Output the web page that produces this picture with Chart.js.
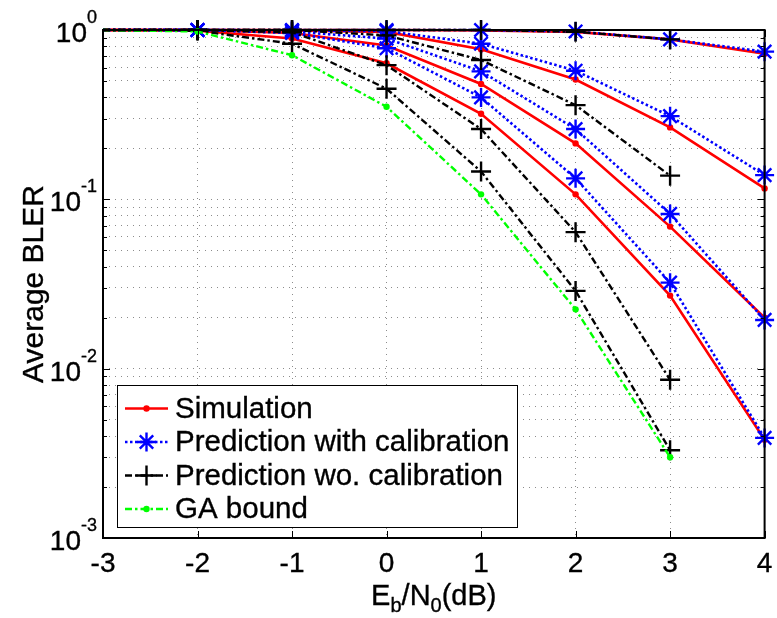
<!DOCTYPE html>
<html>
<head>
<meta charset="utf-8">
<title>Average BLER vs Eb/N0</title>
<script src="https://cdn.jsdelivr.net/npm/chart.js@4"></script>
<style>
  html, body { margin: 0; padding: 0; background: #fff; }
</style>
</head>
<body>
<canvas id="chart" width="777" height="618"></canvas>
<script>
// Eb/N0 sample points (dB)
const ebn0 = [-3, -2, -1, 0, 1, 2, 3, 4];
const ebn0Short = [-3, -2, -1, 0, 1, 2, 3];

// Simulation (red, solid)
const simCurve1 = [1, 1, 1, 0.999, 0.995, 0.975, 0.88, 0.725];
const simCurve2 = [1, 1, 0.995, 0.975, 0.77, 0.51, 0.266, 0.116];
const simCurve3 = [1, 1, 0.96, 0.81, 0.48, 0.214, 0.069, 0.02];
const simCurve4 = [1, 0.99, 0.89, 0.636, 0.32, 0.107, 0.027, 0.0038];

// Prediction with calibration (blue, dotted)
const calCurve1 = [1, 1, 1, 1, 1, 0.98, 0.88, 0.745];
const calCurve2 = [1, 1, 0.995, 0.985, 0.83, 0.575, 0.31, 0.139];
const calCurve3 = [1, 1, 0.98, 0.89, 0.57, 0.26, 0.082, 0.0194];
const calCurve4 = [1, 1, 0.96, 0.78, 0.40, 0.133, 0.0322, 0.0039];

// Prediction wo. calibration (black, dash-dot), stops at 3 dB
const uncalCurve1 = [1, 1, 1, 1, 1, 0.977, 0.88];
const uncalCurve2 = [1, 1, 1, 0.93, 0.665, 0.36, 0.138];
const uncalCurve3 = [1, 1, 0.97, 0.62, 0.26, 0.064, 0.0086];
const uncalCurve4 = [1, 0.99, 0.83, 0.45, 0.146, 0.0288, 0.0033];

// GA bound (green, dash-dot)
const gaBound = [1, 0.98, 0.71, 0.352, 0.107, 0.0224, 0.003];

// axis ticks
const xTicks = [-3, -2, -1, 0, 1, 2, 3, 4];
const yMajor = [0.001, 0.01, 0.1, 1];
const yExpLabels = ['-3', '-2', '-1', '0'];
const legendLabels = ['Simulation', 'Prediction with calibration', 'Prediction wo. calibration', 'GA bound'];

const FONT = '"Liberation Sans", Arial, Helvetica, sans-serif';

// minor + major log grid positions
const yGridValues = [];
[0.001, 0.01, 0.1].forEach(d => { for (let m = 1; m <= 9; m++) yGridValues.push(+(d * m).toPrecision(3)); });
yGridValues.push(1);

function series(xs, ys) {
    return xs.map((x, i) => ({ x: x, y: ys[i] }));
}

// markers at -3 dB sit on the axis and are not shown
function hideFirst(r) {
    return ctx => (ctx.raw && ctx.raw.x === ebn0[0]) ? 0 : r;
}

const styles = {
    sim: { borderColor: '#ff0000', pointBackgroundColor: '#ff0000', pointBorderColor: '#ff0000',
           borderWidth: 2.6, borderDash: [], pointStyle: 'circle', radius: 3.2, pointBorderWidth: 0, order: 4 },
    cal: { borderColor: '#0000ff', pointBackgroundColor: '#0000ff', pointBorderColor: '#0000ff',
           borderWidth: 2.6, borderDash: [2.5, 2.5], pointStyle: 'star', radius: 9.5, pointBorderWidth: 2.4, order: 3 },
    uncal: { borderColor: '#000000', pointBackgroundColor: '#000000', pointBorderColor: '#000000',
             borderWidth: 2.4, borderDash: [7, 3, 2.5, 3], pointStyle: 'cross', radius: 10, pointBorderWidth: 2.4, order: 2 },
    ga: { borderColor: '#00ff00', pointBackgroundColor: '#00ff00', pointBorderColor: '#00ff00',
          borderWidth: 2.4, borderDash: [7, 3, 2.5, 3], pointStyle: 'circle', radius: 3.2, pointBorderWidth: 0, order: 1 }
};

function makeDataset(label, xs, ys, st) {
    return {
        label: label,
        data: series(xs, ys),
        borderColor: st.borderColor,
        backgroundColor: st.borderColor,
        borderWidth: st.borderWidth,
        borderDash: st.borderDash,
        pointStyle: st.pointStyle,
        pointRadius: hideFirst(st.radius),
        pointBorderWidth: st.pointBorderWidth,
        pointBackgroundColor: st.pointBackgroundColor,
        pointBorderColor: st.pointBorderColor,
        tension: 0,
        fill: false,
        clip: false,
        order: st.order
    };
}

const datasets = [
    makeDataset(legendLabels[0], ebn0, simCurve1, styles.sim),
    makeDataset(legendLabels[0], ebn0, simCurve2, styles.sim),
    makeDataset(legendLabels[0], ebn0, simCurve3, styles.sim),
    makeDataset(legendLabels[0], ebn0, simCurve4, styles.sim),
    makeDataset(legendLabels[1], ebn0, calCurve1, styles.cal),
    makeDataset(legendLabels[1], ebn0, calCurve2, styles.cal),
    makeDataset(legendLabels[1], ebn0, calCurve3, styles.cal),
    makeDataset(legendLabels[1], ebn0, calCurve4, styles.cal),
    makeDataset(legendLabels[2], ebn0Short, uncalCurve1, styles.uncal),
    makeDataset(legendLabels[2], ebn0Short, uncalCurve2, styles.uncal),
    makeDataset(legendLabels[2], ebn0Short, uncalCurve3, styles.uncal),
    makeDataset(legendLabels[2], ebn0Short, uncalCurve4, styles.uncal),
    makeDataset(legendLabels[3], ebn0Short, gaBound, styles.ga)
];

// text a bit heavier, like the MATLAB export
function heavyText(ctx, str, x, y) {
    ctx.fillText(str, x, y);
    ctx.strokeText(str, x, y);
}

// MATLAB-like box, inward ticks, labels and legend
const matlabFrame = {
    id: 'matlabFrame',
    afterDraw(chart) {
        const ctx = chart.ctx;
        const a = chart.chartArea;
        const xs = chart.scales.x;
        const ys = chart.scales.y;
        ctx.save();

        // inward tick marks
        ctx.strokeStyle = '#000';
        ctx.lineWidth = 1;
        ctx.setLineDash([]);
        ctx.beginPath();
        xTicks.forEach(v => {
            const px = Math.round(xs.getPixelForValue(v)) + 0.5;
            ctx.moveTo(px, a.bottom); ctx.lineTo(px, a.bottom - 7);
            ctx.moveTo(px, a.top); ctx.lineTo(px, a.top + 7);
        });
        yGridValues.forEach(v => {
            const py = Math.round(ys.getPixelForValue(v)) + 0.5;
            const len = yMajor.includes(v) ? 7 : 4;
            ctx.moveTo(a.left, py); ctx.lineTo(a.left + len, py);
            ctx.moveTo(a.right, py); ctx.lineTo(a.right - len, py);
        });
        ctx.stroke();

        // axes box
        ctx.lineWidth = 2;
        ctx.strokeRect(a.left, a.top, a.right - a.left, a.bottom - a.top);

        // text style
        ctx.fillStyle = '#000';
        ctx.strokeStyle = '#000';
        ctx.lineWidth = 0.35;

        // x tick labels
        ctx.font = '28px ' + FONT;
        ctx.textAlign = 'center';
        ctx.textBaseline = 'alphabetic';
        xTicks.forEach(v => {
            heavyText(ctx, String(v), xs.getPixelForValue(v), a.bottom + 34);
        });

        // y tick labels 10^n
        ctx.textAlign = 'left';
        yMajor.forEach((v, i) => {
            const py = ys.getPixelForValue(v);
            ctx.font = '18px ' + FONT;
            const supW = ctx.measureText(yExpLabels[i]).width;
            ctx.font = '28px ' + FONT;
            const mainW = ctx.measureText('10').width;
            const right = a.left - 6;
            heavyText(ctx, '10', right - supW - mainW, py + 12);
            ctx.font = '18px ' + FONT;
            heavyText(ctx, yExpLabels[i], right - supW, py - 7);
        });

        // y title
        ctx.save();
        ctx.font = '30px ' + FONT;
        ctx.translate(43, (a.top + a.bottom) / 2);
        ctx.rotate(-Math.PI / 2);
        ctx.textAlign = 'center';
        heavyText(ctx, 'Average BLER', 0, 0);
        ctx.restore();

        // x title E_b/N_0(dB)
        const parts = [['E', 0, 29], ['b', 7, 20], ['/N', 0, 29], ['0', 7, 20], ['(dB)', 0, 29]];
        let total = 0;
        parts.forEach(p => { ctx.font = p[2] + 'px ' + FONT; total += ctx.measureText(p[0]).width; });
        let cx = (a.left + a.right) / 2 - total / 2;
        ctx.textAlign = 'left';
        parts.forEach(p => {
            ctx.font = p[2] + 'px ' + FONT;
            heavyText(ctx, p[0], cx, 605 + p[1]);
            cx += ctx.measureText(p[0]).width;
        });

        // legend
        const box = { left: 117, top: 385, right: 517, bottom: 527 };
        ctx.fillStyle = '#fff';
        ctx.fillRect(box.left, box.top, box.right - box.left, box.bottom - box.top);
        ctx.strokeStyle = '#000';
        ctx.lineWidth = 1;
        ctx.strokeRect(box.left + 0.5, box.top + 0.5, box.right - box.left, box.bottom - box.top);
        const legendStyles = [styles.sim, styles.cal, styles.uncal, styles.ga];
        const rowY = [408.5, 442, 475.5, 509];
        legendStyles.forEach((st, i) => {
            const y = rowY[i];
            ctx.save();
            ctx.strokeStyle = st.borderColor;
            ctx.lineWidth = st.borderWidth;
            ctx.setLineDash(st.borderDash);
            ctx.beginPath();
            ctx.moveTo(125, y); ctx.lineTo(168, y);
            ctx.stroke();
            ctx.setLineDash([]);
            ctx.fillStyle = st.pointBackgroundColor;
            ctx.strokeStyle = st.pointBorderColor;
            ctx.lineWidth = st.pointBorderWidth;
            Chart.helpers.drawPoint(ctx, {
                pointStyle: st.pointStyle, radius: st.radius, rotation: 0, borderWidth: st.pointBorderWidth
            }, 146.5, y);
            ctx.restore();
            ctx.fillStyle = '#000';
            ctx.strokeStyle = '#000';
            ctx.lineWidth = 0.35;
            ctx.font = '29.5px ' + FONT;
            ctx.textAlign = 'left';
            ctx.textBaseline = 'middle';
            heavyText(ctx, legendLabels[i], 175, y + 1);
            ctx.textBaseline = 'alphabetic';
        });

        ctx.restore();
    }
};

const gridColor = 'rgba(0, 0, 0, 0.45)';

new Chart(document.getElementById('chart'), {
    type: 'line',
    data: { datasets: datasets },
    options: {
        responsive: false,
        animation: false,
        devicePixelRatio: 1,
        events: [],
        layout: { padding: { left: 103, right: 7, top: 30, bottom: 80 } },
        plugins: { legend: { display: false }, tooltip: { enabled: false } },
        scales: {
            x: {
                type: 'linear', min: -3, max: 4,
                afterBuildTicks: s => { s.ticks = xTicks.map(v => ({ value: v })); },
                ticks: { display: false },
                grid: { color: gridColor, lineWidth: 1, drawTicks: false },
                border: { display: false, dash: [1, 5] }
            },
            y: {
                type: 'logarithmic', min: 0.001, max: 1,
                afterBuildTicks: s => { s.ticks = yGridValues.map(v => ({ value: v })); },
                ticks: { display: false },
                grid: { color: gridColor, lineWidth: 1, drawTicks: false },
                border: { display: false, dash: [1, 5] }
            }
        }
    },
    plugins: [matlabFrame]
});
</script>
</body>
</html>
